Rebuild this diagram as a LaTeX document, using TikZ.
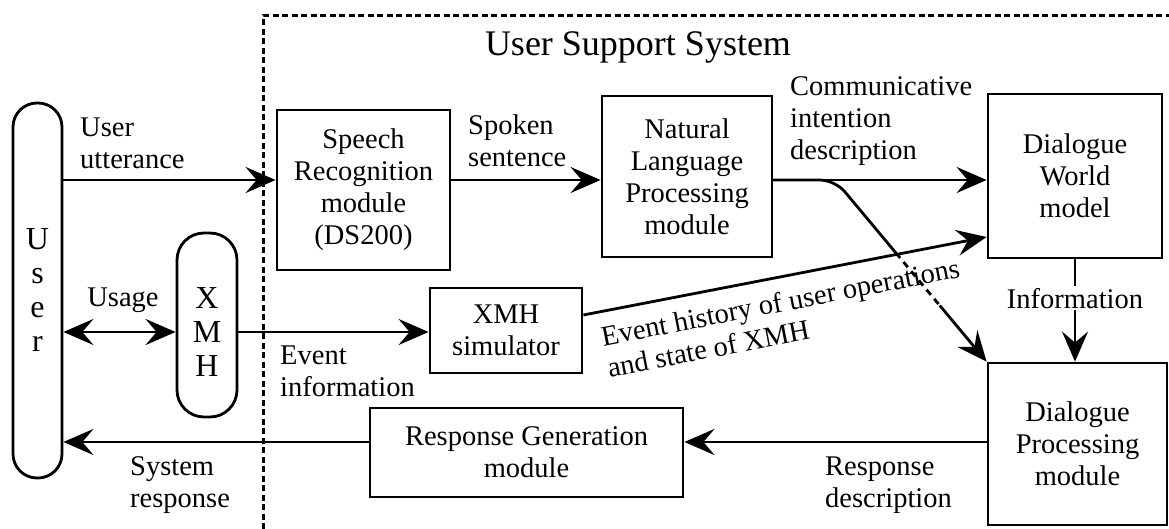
\documentclass[tikz,border=0pt]{standalone}
\usepackage{fontspec}
\setmainfont{Liberation Serif}
\usetikzlibrary{arrows.meta,calc}
\begin{document}
\begin{tikzpicture}[x=1pt,y=-1pt,
  font=\fontsize{28.5}{32}\selectfont,
  >={Stealth[length=30pt,width=26pt,inset=11pt]},
  box/.style={draw, line width=2.8pt, inner sep=0pt, align=center},
  pill/.style={draw, line width=2.8pt, rounded corners=#1, inner sep=0pt, align=center},
  arr/.style={line width=2.8pt, ->},
  darr/.style={line width=2.8pt, <->},
  lab/.style={inner sep=0pt, align=left},
  bigtxt/.style={font=\fontsize{32}{34}\selectfont},
  frame/.style={line width=3pt, dash pattern=on 6pt off 3.5pt},
  ]
\useasboundingbox (0,0) rectangle (1169,529);

% dashed system frame
\draw[frame] (263,529) -- (263,16) -- (1169,16);
\node[font=\fontsize{36}{40}\selectfont, inner sep=0pt] (title) at (638,47) {User Support System};

% nodes
\node[pill=24pt, bigtxt, minimum width=49pt, minimum height=375pt] (user) at (37.5,290.5) {U\\s\\e\\r};
\node[pill=27pt, minimum width=60pt, minimum height=184pt] (xmh) at (207,325) {};
\node[bigtxt, inner sep=0pt, align=center] (xmhtext) at (207,332) {X\\M\\H};
\node[box, minimum width=173pt, minimum height=160pt] (sr) at (363.5,190) {Speech\\Recognition\\module\\(DS200)};
\node[box, minimum width=170pt, minimum height=161pt] (nlp) at (687,176.5) {Natural\\Language\\Processing\\module};
\node[box, minimum width=174pt, minimum height=164pt] (dwm) at (1075,176) {Dialogue\\World\\model};
\node[box, minimum width=152pt, minimum height=85pt] (xsim) at (506,330.5) {XMH\\simulator};
\node[box, minimum width=179pt, minimum height=162pt] (dpm) at (1077.5,444) {Dialogue\\Processing\\module};
\node[box, minimum width=313pt, minimum height=89pt] (rg) at (526.5,452.5) {Response Generation\\module};

% helper heights
\coordinate (h180) at (0,180);
\coordinate (h332) at (0,332);
\coordinate (h315) at (0,315);
\coordinate (h237) at (0,237);
\coordinate (h442) at (0,442);
\coordinate (bend) at (835,180);

% connectors
\draw[arr] (user.east |- h180) -- (sr.west |- h180);
\draw[arr] (sr.east |- h180) -- (nlp.west |- h180);
\draw[arr] (nlp.east |- h180) -- (dwm.west |- h180);
\draw[arr, rounded corners=15pt] (nlp.east |- h180) -- (bend) -- (dpm.north west);
\draw[white, line width=3.6pt, dash pattern=on 5pt off 7pt]
  ($(bend)!0.43!(dpm.north west)$) -- ($(bend)!0.69!(dpm.north west)$);
\draw[darr] (user.east |- h332) -- (xmh.west |- h332);
\draw[arr] (xmh.east |- h332) -- (xsim.west |- h332);
\draw[arr] (xsim.east |- h315) -- node[pos=0.03, sloped, anchor=north west, inner xsep=0pt, inner ysep=13pt, align=left] (evlab) {Event history of user operations\\and state of XMH} (dwm.west |- h237);
\draw[arr] (dwm.south) -- node[pos=0.38, fill=white, inner sep=2pt] (info) {Information} (dwm.south |- dpm.north);
\draw[arr] (dpm.west |- h442) -- (rg.east |- h442);
\draw[arr] (rg.west |- h442) -- (user.east |- h442);

% labels
\node[lab, anchor=west] (lutt) at (80,143) {User\\utterance};
\node[lab, anchor=west] (lspk) at (468,141) {Spoken\\sentence};
\node[lab, anchor=west] (lcom) at (790,121) {Communicative\\intention\\description};
\node[inner sep=0pt] (luse) at (123,300) {Usage};
\node[lab, anchor=west] (levt) at (280,371) {Event\\information};
\node[lab, anchor=west] (lrsp) at (825,485) {Response\\description};
\node[lab, anchor=west] (lsys) at (130,485) {System\\response};
\end{tikzpicture}
\end{document}
